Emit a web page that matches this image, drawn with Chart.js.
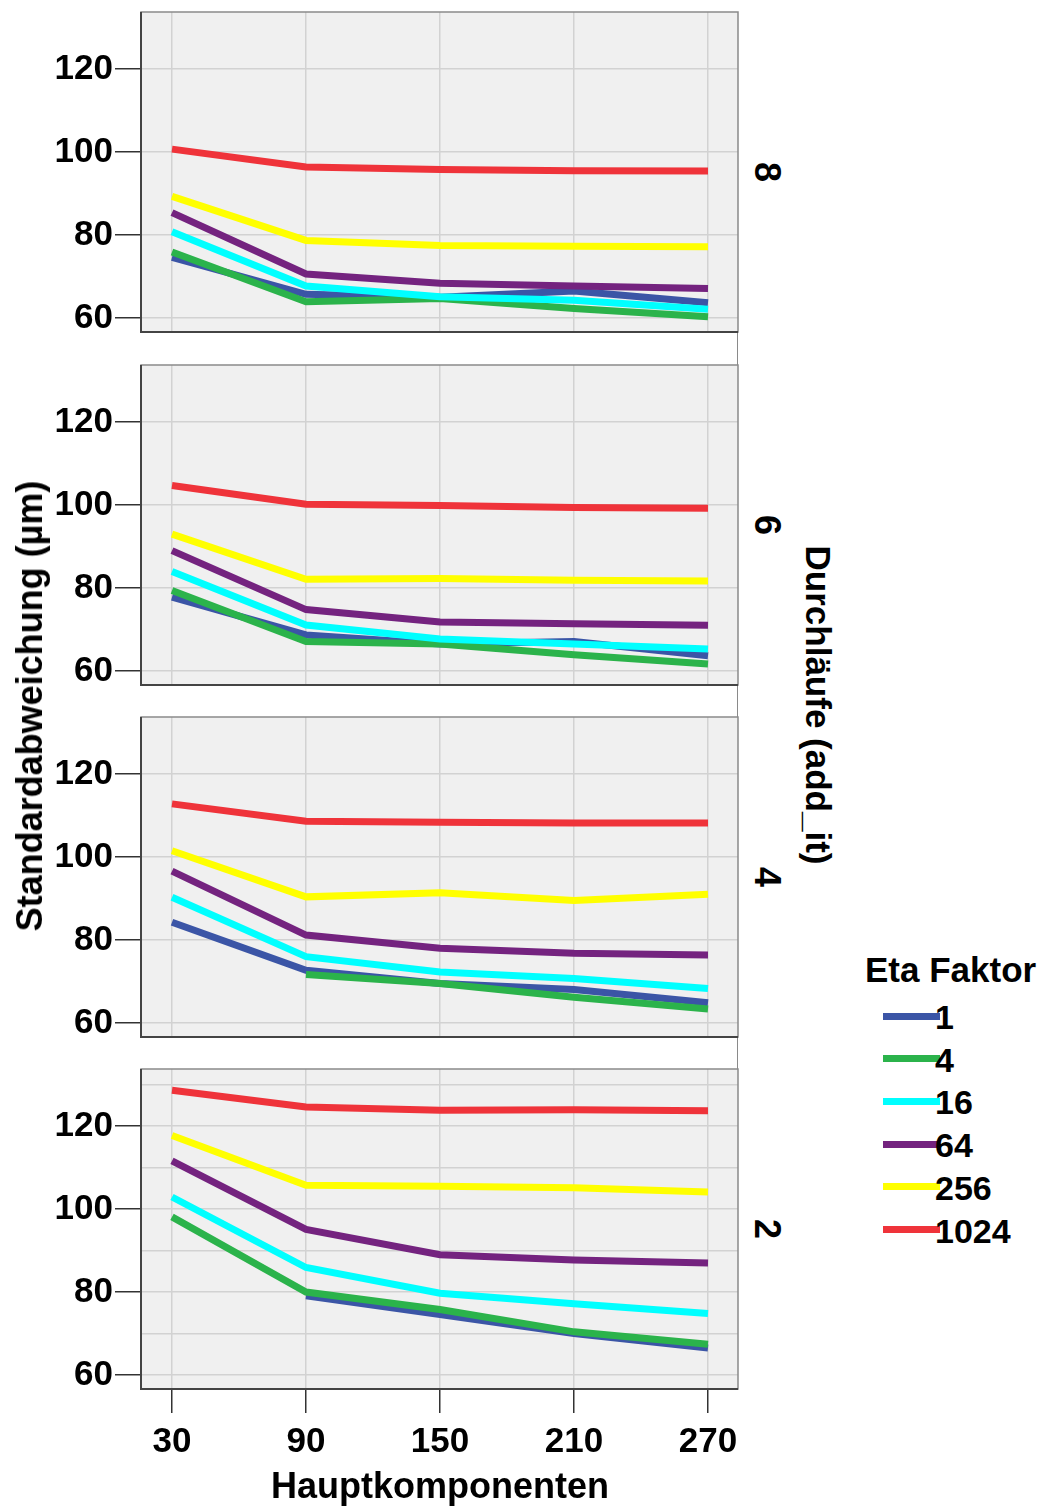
<!DOCTYPE html>
<html>
<head>
<meta charset="utf-8">
<script src="https://cdn.jsdelivr.net/npm/chart.js@4.4.1/dist/chart.umd.min.js"></script>
<style>
  body { margin: 0; background: #fff; font-family: "Liberation Sans", Arial, sans-serif; }
  #page { position: relative; width: 1049px; height: 1506px; overflow: hidden; }
  canvas { position: absolute; left: 0; }
  .txt { position: absolute; white-space: nowrap; color: #000; font-weight: bold; line-height: 1; }
  .strip-line { position: absolute; left: 737px; top: 12px; width: 0; height: 1377px; border-left: 1.5px solid #8a8a8a; }
  .leg-line { position: absolute; height: 7px; width: 57px; left: 883px; }
</style>
</head>
<body>
<div id="page">
  <div class="strip-line"></div>
  <canvas id="panel-8" width="745" height="332" style="top:6px"></canvas>
  <canvas id="panel-6" width="745" height="332" style="top:359px"></canvas>
  <canvas id="panel-4" width="745" height="332" style="top:711px"></canvas>
  <canvas id="panel-2" width="745" height="411" style="top:1063px"></canvas>
  <div id="overlay"></div>
</div>
<script>
// Data
var hauptkomponenten = [30, 90, 150, 210, 270];
var etaFaktor = ['1', '4', '16', '64', '256', '1024'];
var etaColors = ['#3b55a6', '#2bb34b', '#00ffff', '#74237f', '#ffff00', '#ef333a'];
var durchlaeufe = ['8', '6', '4', '2'];
var yTickValues = [60, 70, 80, 90, 100, 110, 120, 130];

// one row per Eta Faktor (1, 4, 16, 64, 256, 1024)
var add8 = [
  [74.6, 65.7, 65.0, 66.5, 63.7],
  [75.9, 63.9, 64.7, 62.3, 60.3],
  [80.8, 67.7, 65.1, 64.3, 62.1],
  [85.4, 70.6, 68.4, 67.7, 67.1],
  [89.3, 78.7, 77.5, 77.3, 77.2],
  [100.7, 96.4, 95.8, 95.5, 95.4]
];
var add6 = [
  [77.8, 68.7, 66.5, 67.1, 63.7],
  [79.4, 67.1, 66.5, 63.9, 61.7],
  [84.0, 71.1, 67.7, 66.5, 65.3],
  [89.0, 74.8, 71.8, 71.4, 71.0],
  [93.0, 82.1, 82.3, 81.9, 81.7],
  [104.7, 100.2, 99.9, 99.4, 99.2]
];
var add4 = [
  [84.3, 72.7, 69.5, 68.1, 64.9],
  [null, 71.7, 69.5, 66.2, 63.4],
  [90.3, 76.0, 72.3, 70.7, 68.3],
  [96.6, 81.2, 78.0, 76.8, 76.4],
  [101.5, 90.4, 91.4, 89.5, 91.0],
  [112.8, 108.6, 108.4, 108.2, 108.2]
];
var add2 = [
  [null, 79.1, 74.6, 70.0, 66.5],
  [98.1, 80.0, 75.8, 70.4, 67.4],
  [102.9, 85.9, 79.7, 77.2, 74.8],
  [111.6, 95.1, 89.0, 87.7, 87.0],
  [117.7, 105.7, 105.5, 105.1, 104.1],
  [128.6, 124.6, 123.8, 123.9, 123.7]
];

var FONT = "'Liberation Sans', Arial, sans-serif";

// panel background + frame
var panelFrame = {
  id: 'panelFrame',
  beforeDraw: function (chart) {
    var a = chart.chartArea, ctx = chart.ctx;
    ctx.save();
    ctx.fillStyle = '#f0f0f0';
    ctx.fillRect(a.left, a.top, a.right - a.left, a.bottom - a.top);
    ctx.restore();
  },
  afterDraw: function (chart) {
    var a = chart.chartArea, ctx = chart.ctx;
    ctx.save();
    ctx.strokeStyle = '#8a8a8a';
    ctx.lineWidth = 1.5;
    ctx.strokeRect(a.left, a.top, a.right - a.left, a.bottom - a.top);
    ctx.strokeStyle = '#444';
    ctx.lineWidth = 2;
    ctx.beginPath();
    ctx.moveTo(a.left, a.top);
    ctx.lineTo(a.left, a.bottom);
    ctx.lineTo(a.right, a.bottom);
    ctx.stroke();
    ctx.restore();
  }
};

function makePanel(id, rows, showX) {
  var datasets = etaFaktor.map(function (name, i) {
    return {
      label: name,
      data: hauptkomponenten.map(function (x, j) { return { x: x, y: rows[i][j] }; }),
      borderColor: etaColors[i],
      backgroundColor: etaColors[i],
      borderWidth: 7,
      pointRadius: 0,
      tension: 0,
      order: etaFaktor.length - i
    };
  });

  return new Chart(document.getElementById(id), {
    type: 'line',
    data: { datasets: datasets },
    plugins: [panelFrame],
    options: {
      responsive: false,
      animation: false,
      layout: { padding: { top: 6, right: 7, bottom: showX ? 0 : 6, left: 0 } },
      plugins: { legend: { display: false }, tooltip: { enabled: false } },
      scales: {
        x: {
          type: 'linear',
          min: 16.12,
          max: 283.43,
          afterBuildTicks: function (s) {
            s.ticks = hauptkomponenten.map(function (v) { return { value: v }; });
          },
          afterFit: function (s) {
            s.height = showX ? 85 : 0;
            s.paddingLeft = 0;
            s.paddingRight = 0;
          },
          border: { display: false },
          grid: {
            color: '#d2d2d2',
            lineWidth: 1.5,
            drawTicks: showX,
            tickLength: 24,
            tickColor: '#333',
            tickWidth: 1.5
          },
          ticks: {
            display: showX,
            maxRotation: 0,
            autoSkip: false,
            padding: 8,
            color: '#000',
            font: { family: FONT, size: 35, weight: 'bold' }
          }
        },
        y: {
          min: 56.63,
          max: 133.74,
          afterBuildTicks: function (s) {
            s.ticks = yTickValues.map(function (v) { return { value: v }; });
          },
          afterFit: function (s) {
            s.width = 141;
            s.paddingTop = 0;
            s.paddingBottom = 0;
          },
          border: { display: false },
          grid: {
            color: '#d2d2d2',
            lineWidth: 1.5,
            tickLength: 26,
            tickWidth: 1.5,
            tickColor: function (c) {
              return c.tick && c.tick.value % 20 === 0 ? '#333' : 'rgba(0,0,0,0)';
            }
          },
          ticks: {
            padding: 2,
            color: '#000',
            font: { family: FONT, size: 35, weight: 'bold' },
            callback: function (v) { return v % 20 === 0 ? v : ''; }
          }
        }
      }
    }
  });
}

makePanel('panel-8', add8, false);
makePanel('panel-6', add6, false);
makePanel('panel-4', add4, false);
makePanel('panel-2', add2, true);

// Texts: titles, strip labels, legend
var overlay = document.getElementById('overlay');

function addText(text, x, y, size, rotate, anchor) {
  var d = document.createElement('div');
  d.className = 'txt';
  d.textContent = text;
  d.style.fontSize = size + 'px';
  d.style.left = x + 'px';
  d.style.top = y + 'px';
  var tx = anchor === 'left' ? '0' : '-50%';
  d.style.transform = 'translate(' + tx + ',-50%)' + (rotate ? ' rotate(' + rotate + 'deg)' : '');
  overlay.appendChild(d);
  return d;
}

addText('Standardabweichung (µm)', 30, 706, 36, -90);
addText('Hauptkomponenten', 440, 1486, 36, 0);
addText('Durchläufe (add_it)', 818, 705, 35, 90);

var panelCenters = [172, 525, 877, 1229];
durchlaeufe.forEach(function (label, i) {
  addText(label, 767, panelCenters[i], 36, 90);
});

// Legend
addText('Eta Faktor', 865, 969, 35, 0, 'left');
etaFaktor.forEach(function (name, i) {
  var y = 1016 + i * 42.7;
  var line = document.createElement('div');
  line.className = 'leg-line';
  line.style.top = (y - 3.5) + 'px';
  line.style.background = etaColors[i];
  overlay.appendChild(line);
  addText(name, 935, y + 1, 34, 0, 'left');
});
</script>
</body>
</html>
